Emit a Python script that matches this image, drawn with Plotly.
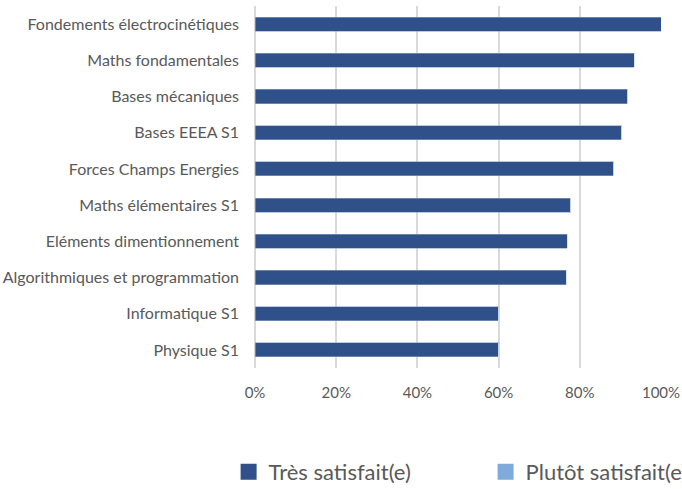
import plotly.graph_objects as go

# Categories, top to bottom as shown
modules = [
    "Fondements électrocinétiques",
    "Maths fondamentales",
    "Bases mécaniques",
    "Bases EEEA S1",
    "Forces Champs Energies",
    "Maths élémentaires S1",
    "Eléments dimentionnement",
    "Algorithmiques et programmation",
    "Informatique S1",
    "Physique S1",
]
tres_satisfait = [1.00, 0.934, 0.918, 0.903, 0.883, 0.778, 0.769, 0.767, 0.60, 0.60]
plutot_satisfait = [0, 0, 0, 0, 0, 0, 0, 0, 0, 0]
x_ticks = [0, 0.2, 0.4, 0.6, 0.8, 1.0]

TEXT = "#595959"
FONT = "Lato, Open Sans, sans-serif"
DARK = "#2F5089"
LIGHT = "#7FAADC"

fig = go.Figure()
fig.add_trace(go.Bar(
    name="Très satisfait(e)",
    y=modules,
    x=tres_satisfait,
    orientation="h",
    marker=dict(color=DARK, line=dict(color="#8EA6CC", width=0.6)),
    showlegend=False,
))
fig.add_trace(go.Bar(
    name="Plutôt satisfait(e)",
    y=modules,
    x=plutot_satisfait,
    orientation="h",
    marker=dict(color=LIGHT),
    showlegend=False,
))

# Legend entries with larger square keys
for name, color in [("Très satisfait(e)", DARK), ("Plutôt satisfait(e)", LIGHT)]:
    fig.add_trace(go.Scatter(
        name=name,
        x=[None],
        y=[None],
        mode="markers",
        marker=dict(symbol="square", size=22, color=color),
    ))

fig.update_layout(
    width=682,
    height=489,
    barmode="stack",
    bargap=0.61,
    plot_bgcolor="white",
    paper_bgcolor="white",
    font=dict(family=FONT, color=TEXT, size=16),
    margin=dict(l=255, r=21, t=6, b=121, autoexpand=False),
    xaxis=dict(
        range=[0, 1.0],
        tickvals=x_ticks,
        tickformat=".0%",
        showgrid=True,
        gridcolor="#D9D9D9",
        gridwidth=1.5,
        zeroline=True,
        zerolinecolor="#D9D9D9",
        zerolinewidth=1.5,
        ticks="",
        ticklabelstandoff=14,
        tickfont=dict(size=15, color=TEXT),
    ),
    yaxis=dict(
        categoryorder="array",
        categoryarray=modules,
        autorange="reversed",
        ticks="",
        showgrid=False,
        ticklabelstandoff=15,
        tickfont=dict(size=16, color=TEXT),
    ),
    legend=dict(
        orientation="h",
        x=-0.065,
        xanchor="left",
        y=-0.287,
        yanchor="middle",
        entrywidth=212,
        itemwidth=30,
        font=dict(size=22, color=TEXT),
        traceorder="normal",
    ),
)

fig.write_html(
    "out.html",
    config={"displayModeBar": False},
    post_script="document.body.style.margin='0';",
)
